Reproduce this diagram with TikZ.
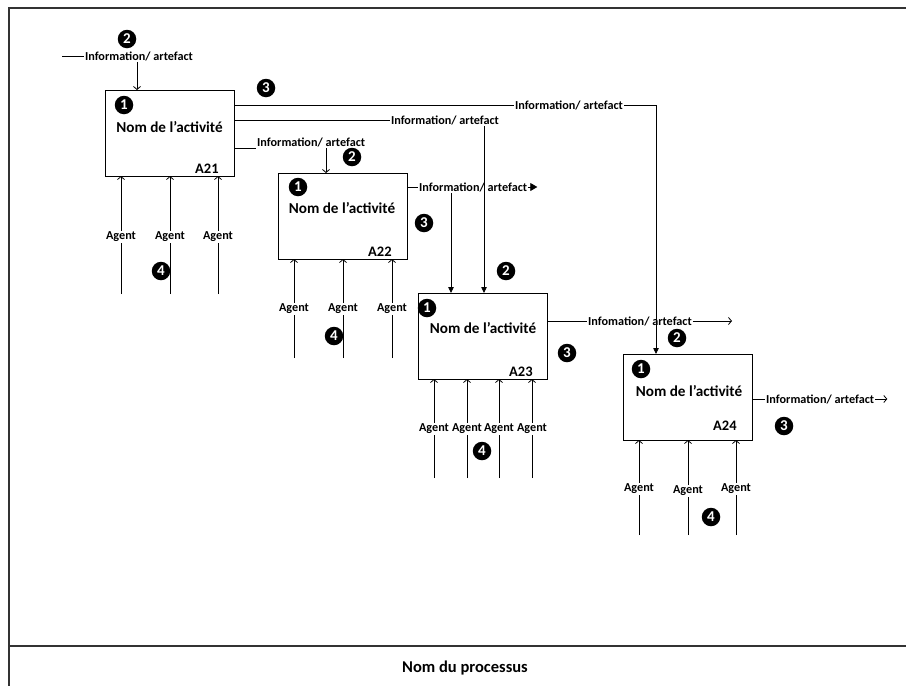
\documentclass[tikz,border=0pt]{standalone}
\usepackage{fontspec}
\setmainfont{Carlito}
\usetikzlibrary{arrows.meta,calc}
\begin{document}
\begin{tikzpicture}[x=1pt,y=-1pt,
  line width=0.8pt,
  actbox/.style={draw, line width=1pt, inner sep=0pt, outer sep=0pt, anchor=north west, minimum width=129pt, minimum height=86pt},
  lbl/.style={font=\fontsize{12.2}{14}\selectfont\bfseries, inner sep=0.8pt},
  agentlbl/.style={font=\fontsize{12.2}{14}\selectfont\bfseries, inner sep=1.5pt, fill=white},
  actname/.style={font=\fontsize{15.2}{17}\selectfont\bfseries, inner sep=0pt},
  actid/.style={font=\fontsize{14.5}{16}\selectfont\bfseries, inner sep=0pt, anchor=east},
  num/.style={circle, fill=black, text=white, minimum size=18.5pt, inner sep=0pt, font=\fontsize{15}{16}\selectfont\bfseries},
  openarrow/.style={-{Straight Barb[length=3pt,width=7pt]}},
  fillarrow/.style={-{Triangle[length=6pt,width=5.5pt]}},
  bigtri/.style={-{Triangle[length=7pt,width=8pt]}},
  frameline/.style={draw=black!80, line width=1.2pt}
]
\useasboundingbox (0,0) rectangle (906,686);
% frame
\draw[frameline] (906,8) -- (9,8) -- (9,686);
\draw[frameline] (9,646) -- (906,646);
\node[font=\fontsize{16.5}{18}\selectfont\bfseries] (proc) at (465,668) {Nom du processus};

% boxes
\node[actbox] (A21) at (105,90) {};
\node[actbox] (A22) at (278,173) {};
\node[actbox] (A23) at (418,293) {};
\node[actbox] (A24) at (623,354) {};

% box contents
\node[num] (n21) at (124,105) {1};
\node[actname] (t21) at (169.5,127) {Nom de l’activité};
\node[actid] (i21) at (219,169) {A21};
\node[num] (n22) at (298,187) {1};
\node[actname] (t22) at (342,208) {Nom de l’activité};
\node[actid] (i22) at (392,252) {A22};
\node[num] (n23) at (427,308) {1};
\node[actname] (t23) at (483,328) {Nom de l’activité};
\node[actid] (i23) at (533,372) {A23};
\node[num] (n24) at (641,369) {1};
\node[actname] (t24) at (689,391) {Nom de l’activité};
\node[actid] (i24) at (737,426) {A24};

% input to A21
\node[lbl] (L0) at (139,56) {Information/ artefact};
\coordinate (s0) at (62,56);
\draw (s0) -- (L0.west);
\coordinate (in21) at ($(A21.north west)+(32,0)$);
\draw[openarrow] (L0.south -| in21) -- (in21);

% output line 1 (A21 -> A24)
\node[lbl] (L1) at (569,105) {Information/ artefact};
\coordinate (in24) at ($(A24.north west)+(33,0)$);
\draw (A21.east |- L1.west) -- (L1.west);
\draw[fillarrow] (L1.east) -| (in24);

% output line 2 (A21 -> A23)
\node[lbl] (L2) at (445,120) {Information/ artefact};
\coordinate (in23b) at ($(A23.north west)+(66,0)$);
\draw (A21.east |- L2.west) -- (L2.west);
\draw[fillarrow] (L2.south -| in23b) -- (in23b);

% output line 3 (A21 -> A22)
\node[lbl, anchor=south west] (L3) at (256,148) {Information/ artefact};
\coordinate (in22) at ($(A22.north west)+(48,0)$);
\draw (A21.east |- L3.south west) -- (L3.south west);
\draw[openarrow] (L3.south -| in22) -- (in22);

% output of A22 (-> A23)
\node[lbl, anchor=west] (L22) at (418,187) {Information/ artefact};
\coordinate (in23a) at ($(A23.north west)+(33,0)$);
\draw (A22.east |- L22.west) -- (L22.west);
\coordinate (tri22) at ($(L22.east)+(9,0)$);
\draw[bigtri] (L22.east) -- (tri22);
\draw[fillarrow] (L22.south -| in23a) -- (in23a);

% output of A23
\node[lbl] (L23) at (640,321) {Infomation/ artefact};
\coordinate (e23) at (732,321);
\draw (A23.east |- L23.west) -- (L23.west);
\draw[openarrow] (L23.east) -- (e23);

% output of A24
\node[lbl, anchor=west] (L24) at (765,399) {Information/ artefact};
\coordinate (e24) at ($(L24.east)+(12,0)$);
\draw (A24.east |- L24.west) -- (L24.west);
\draw[openarrow] (L24.east) -- (e24);

% agents
\foreach \x/\k in {121/a,170/b,218/c} {
  \coordinate (g21\k) at (\x,294);
  \draw[openarrow] (g21\k) -- (g21\k |- A21.south);
  \node[agentlbl] (ag21\k) at (\x,237) {Agent};
}
\foreach \x/\k in {294/a,343/b,392/c} {
  \coordinate (g22\k) at (\x,358);
  \draw[openarrow] (g22\k) -- (g22\k |- A22.south);
  \node[agentlbl] (ag22\k) at (\x,309) {Agent};
}
\foreach \x/\k in {434/a,467/b,499/c,532/d} {
  \coordinate (g23\k) at (\x,478);
  \draw[openarrow] (g23\k) -- (g23\k |- A23.south);
  \node[agentlbl, inner xsep=0.3pt] (ag23\k) at (\x,429) {Agent};
}
\foreach \x/\y/\k in {639/489/a,688/491/b,736/489/c} {
  \coordinate (g24\k) at (\x,535);
  \draw[openarrow] (g24\k) -- (g24\k |- A24.south);
  \node[agentlbl] (ag24\k) at (\x,\y) {Agent};
}

% numbered markers
\node[num] (m2a) at (127,39) {2};
\node[num] (m2b) at (352,157) {2};
\node[num] (m2c) at (506,271) {2};
\node[num] (m2d) at (677,338) {2};
\node[num] (m3a) at (266,88) {3};
\node[num] (m3b) at (424,223) {3};
\node[num] (m3c) at (567,353) {3};
\node[num] (m3d) at (784,426) {3};
\node[num] (m4a) at (161,271) {4};
\node[num] (m4b) at (334,336) {4};
\node[num] (m4c) at (482,451) {4};
\node[num] (m4d) at (711,517) {4};
\end{tikzpicture}
\end{document}
